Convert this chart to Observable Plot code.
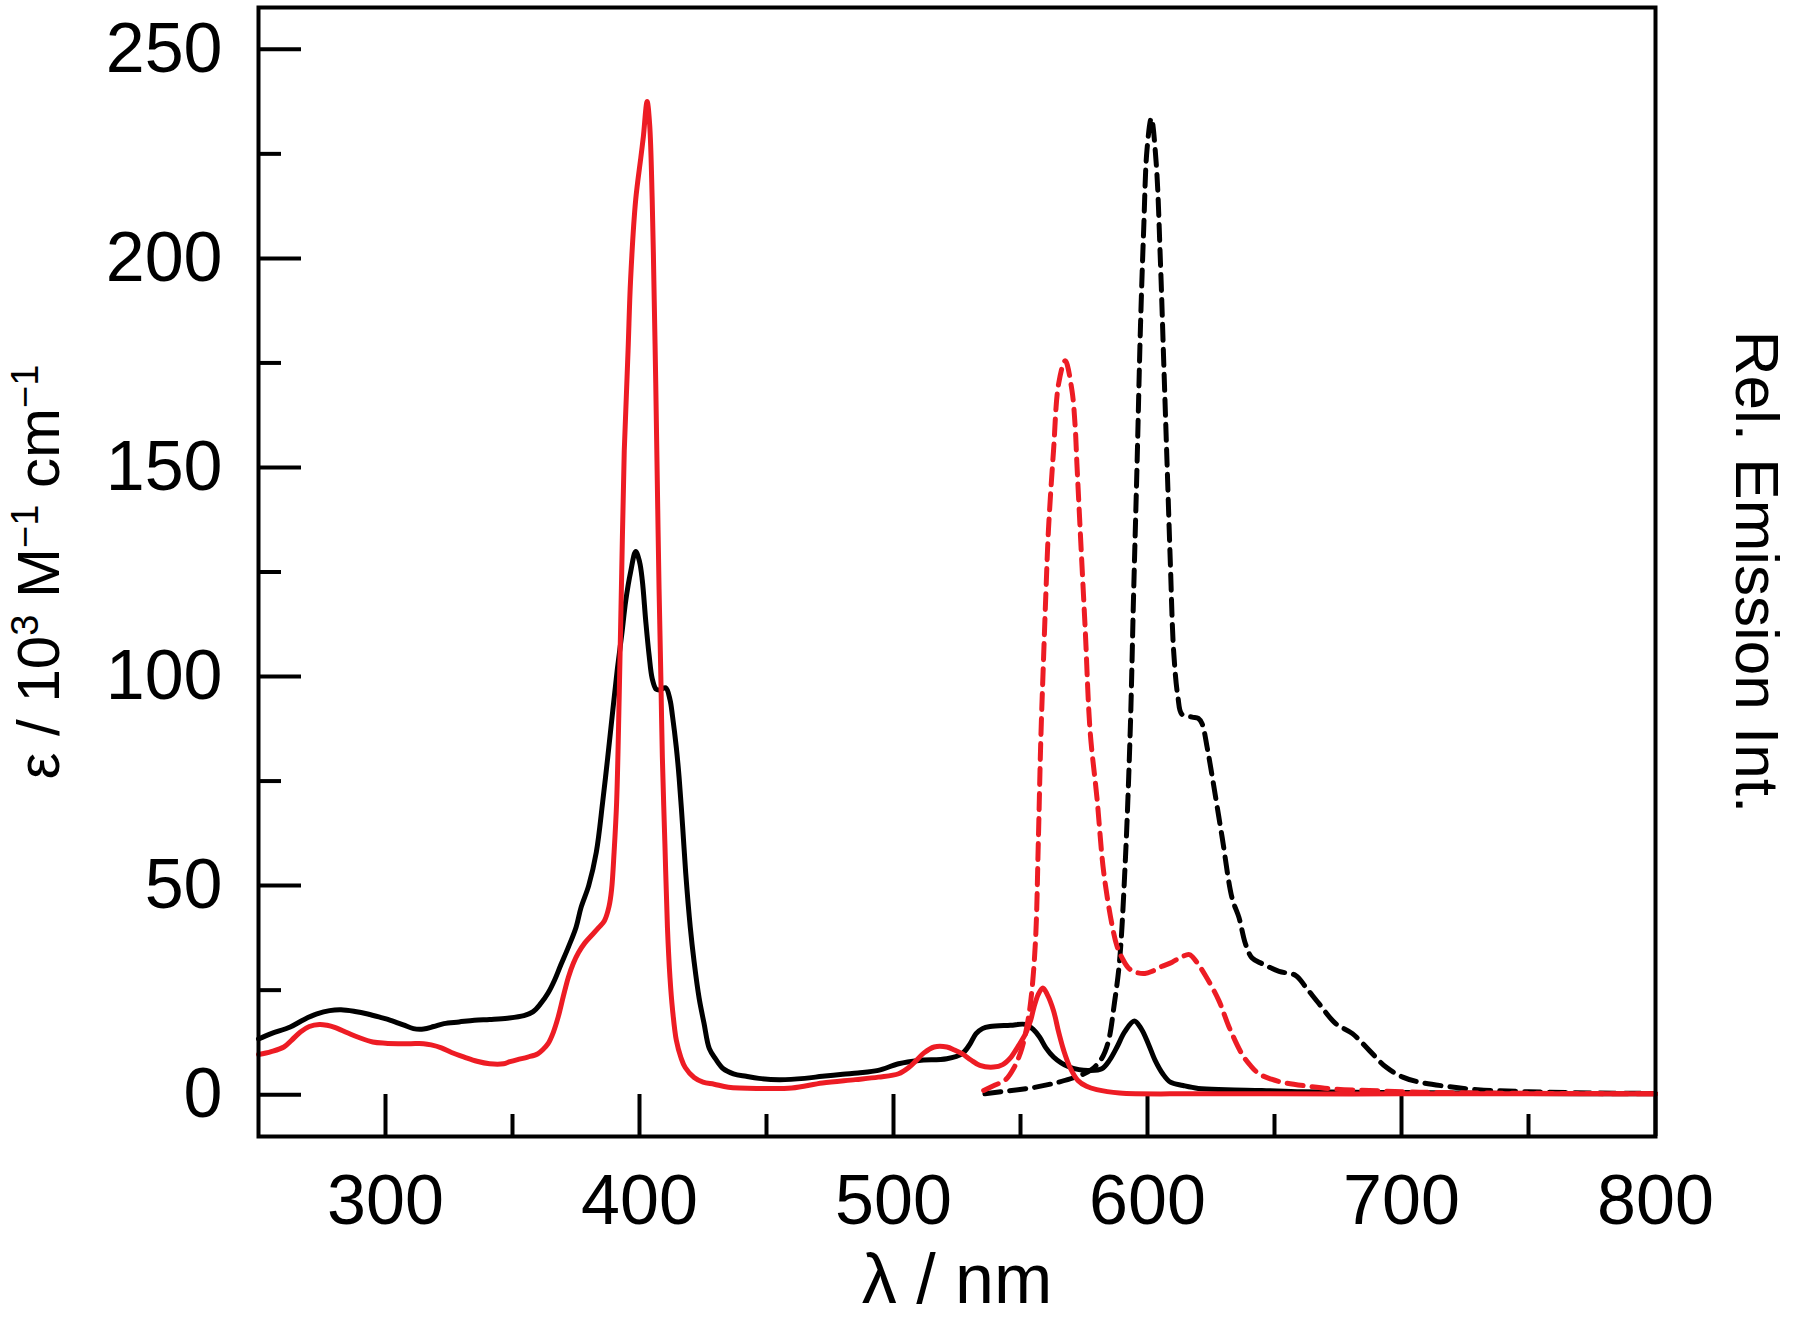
<!DOCTYPE html>
<html><head><meta charset="utf-8">
<script src="https://cdn.jsdelivr.net/npm/d3@7"></script>
<script src="https://cdn.jsdelivr.net/npm/@observablehq/plot@0.6"></script>
<style>
html,body{margin:0;padding:0;background:#fff;}
#chart svg{display:block;}
</style></head><body><div id="chart"></div>
<script>
// Absorption (solid) spectra: [wavelength nm, ε / 10^3 M^-1 cm^-1]
const absBlack = [
[250,13.3],[255,14.6],[262.5,16.2],[268,18.0],[273,19.3],[278,20.1],[282.5,20.3],[288,19.9],[293,19.3],[298,18.5],
[302,17.8],[307,16.7],[311,15.8],[315,15.7],[319,16.3],[323,17.0],[329,17.4],[335,17.8],[341,18.0],[348,18.3],
[354.5,18.9],[358,19.8],[361,21.7],[364,24.3],[366.5,27.3],[369,31],[372,35.3],[375,40],[377,44.8],[380,50],
[383,58],[385.5,70],[387.5,80.7],[389.5,92],[391.3,101.9],[393,110],[394.6,118.2],[396.5,125],[398.5,129.9],[400,127.5],
[401.1,123],[402.5,113],[403.8,105],[405,99.5],[406.5,97],[408,96.8],[410.3,97.3],[412,94.5],[413,90.5],[414.5,83],
[415.6,75.8],[417,64],[418.2,53],[420,40],[421.5,31.8],[423.5,23],[425.4,17.1],[427.5,11],[430,8.5],[433,6.2],
[437,5.0],[442,4.4],[447,3.9],[455,3.6],[465,3.9],[472,4.4],[480,4.9],[486,5.2],[494,5.8],[502,7.4],
[510,8.2],[521,8.6],[527,9.8],[530,12],[532.5,14.6],[535,15.8],[538,16.3],[546,16.6],[552,16.8],[555,15.6],
[557.5,13.8],[560,11.2],[563,9.0],[566,7.6],[568.5,6.8],[573,6.0],[577,5.8],[582,6.2],[585,8.2],[588,11.4],
[591,15],[594.8,17.6],[597.5,15.8],[600.3,12.2],[603,8.2],[606,5.0],[609,3.0],[614,2.2],[620,1.5],[631,1.2],
[645,1.0],[661,0.7],[700,0.5],[750,0.3],[800,0.2]
];
const absRed = [
[250,9.6],[255,10.3],[260,11.4],[263,13],[266.5,15],[270,16.3],[274,16.8],[277,16.6],[280,16.1],[285,14.8],
[289,13.8],[295,12.6],[300,12.3],[305,12.2],[310,12.2],[315,12.2],[318,11.9],[322,11.2],[326,10.1],[331,9.0],
[336,8.0],[341,7.4],[346.5,7.4],[349,7.9],[352,8.4],[356,9.0],[360,9.8],[362,10.8],[364,12.2],[366,14.8],
[368,18.6],[370,23.5],[372,28.1],[374,31.5],[376,34],[378.5,36.3],[381,38],[384,40],[386.2,41.6],[388,45],
[389,49],[390,58],[391,70],[392,95],[393,125],[394,154],[395.5,178],[396.5,195],[398.5,214],[400.5,224],
[401.5,229],[403,237.5],[404,232],[405,214],[405.8,190],[406.4,170],[407,147],[407.7,121],[408.4,100],[409,80.7],
[410,60],[411,40],[412,28],[413,20.4],[414.5,13],[416.3,8.9],[418,6.5],[421.5,4.1],[425,3.0],[429.4,2.5],
[435,1.8],[447,1.5],[460,1.6],[472,2.8],[485,3.6],[494,4.2],[502,5.0],[506,6.5],[509,8.2],[512,10],
[516,11.4],[521,11.4],[524,10.7],[527,9.8],[530.5,8.3],[534,7.0],[539.4,6.6],[543,7.2],[546.3,9.0],[549,11.5],
[552,14.6],[554,17.8],[555.3,20.9],[557,24],[558.8,25.5],[560.5,24],[563,20.1],[565,15],[567,10.6],[569.5,6.5],
[572.6,3.4],[576,2.0],[580,1.2],[589,0.4],[620,0.2],[700,0.2],[800,0.2]
];
// Emission (dashed) spectra: [wavelength nm, relative intensity]
const emBlack = [
[536,0.2],[545,0.9],[556,1.8],[565,3],[573,4.5],[578,6],[582,8.7],[584.5,12.5],[587,22],[589,32],
[591.2,55],[593.2,87],[594.5,119],[595.9,151],[597.2,183],[598.5,207],[599.8,226],[601.5,233.5],[603.4,223],[605.1,199],
[606.4,175],[607.7,151],[609,127],[610.3,106],[612,95],[613.5,91],[617.6,90.3],[620,90],[621.5,88.7],[623.5,83],
[625.5,76],[629.4,61.5],[633.3,47],[636,42.4],[638.6,36],[641.2,32.7],[645.2,31.3],[651.8,29.5],[658.4,28.5],[662.3,25.7],
[667.6,21.7],[674.1,17],[680.7,14.6],[687.3,10.6],[693.9,6.6],[700.5,4.2],[707,3.0],[717.6,2.0],[730,1.2],[750,0.7],
[775,0.4],[800,0.3]
];
const emRed = [
[535.5,1.0],[540,2.3],[544,3.5],[547.5,6.5],[550.5,11],[553,18],[554.5,25],[556,38],[557,60],[558,85],
[559,103],[560,120],[561,135],[563,154],[565,170],[567.6,175.5],[570.2,168.7],[571.5,160],[572.2,151],[573.5,135],
[575.5,111],[577.4,87],[580.1,71],[582.7,53.5],[586,40.7],[588,35.5],[590,32.7],[592.5,30.3],[595.2,29.3],[599,29.0],
[601.8,29.5],[605,30.5],[609.7,31.7],[613,32.8],[616.5,33.5],[619,32],[622.8,28.5],[628.1,22.5],[632.1,16.2],[637.3,9.6],
[640.5,7.0],[643.9,5.0],[648.8,3.7],[654.4,2.8],[663.6,2.0],[674.1,1.3],[687.3,1.0],[707,0.6],[730,0.4],[760,0.3],
[800,0.2]
];

const xMajor = [300, 400, 500, 600, 700, 800];
const xMinor = [350, 450, 550, 650, 750];
const yMajor = [0, 50, 100, 150, 200, 250];
const yMinor = [25, 75, 125, 175, 225];
const xTitle = "λ / nm";
const yTitleParts = [["ε / 10", false], ["3", true], [" M", false], ["−1", true], [" cm", false], ["−1", true]];
const yTitle = yTitleParts.map(p => p[0]).join("");
const y2Title = "Rel. Emission Int.";

const FONT = "'Liberation Sans', Arial, Helvetica, sans-serif";
const toRows = arr => arr.map(([x, y]) => ({x, y}));
const RED = "#ed1c24";
const LW = 5;

const chart = Plot.plot({
  width: 1800, height: 1323,
  marginLeft: 258, marginRight: 145, marginTop: 7, marginBottom: 187,
  style: {fontFamily: FONT, background: "#fff", color: "#000", overflow: "visible"},
  x: {domain: [250, 800]},
  y: {domain: [-10, 260]},
  marks: [
    Plot.axisX(xMajor, {anchor: "bottom", tickSize: -42, strokeWidth: 4, fill: "none", label: null}),
    Plot.axisX(xMinor, {anchor: "bottom", tickSize: -22, strokeWidth: 4, fill: "none", label: null}),
    Plot.axisX(xMajor, {anchor: "bottom", tickSize: 0, tickPadding: 38, fontSize: 70, label: null}),
    Plot.axisY(yMajor, {anchor: "left", tickSize: -43, strokeWidth: 4, fill: "none", label: null}),
    Plot.axisY(yMinor, {anchor: "left", tickSize: -23, strokeWidth: 4, fill: "none", label: null}),
    Plot.axisY(yMajor, {anchor: "left", tickSize: 0, tickPadding: 36, fontSize: 70, label: null}),
    Plot.line(toRows(absBlack), {x: "x", y: "y", stroke: "#000", strokeWidth: LW, curve: "catmull-rom"}),
    Plot.line(toRows(emBlack), {x: "x", y: "y", stroke: "#000", strokeWidth: LW, strokeDasharray: "16,9", curve: "catmull-rom"}),
    Plot.line(toRows(emRed), {x: "x", y: "y", stroke: RED, strokeWidth: LW, strokeDasharray: "16,9", curve: "catmull-rom"}),
    Plot.line(toRows(absRed), {x: "x", y: "y", stroke: RED, strokeWidth: LW, curve: "catmull-rom"}),
    Plot.frame({stroke: "#000", strokeWidth: 4}),
    Plot.text([xTitle], {text: d => d, frameAnchor: "bottom", dy: 166, lineAnchor: "bottom", fontSize: 70}),
    Plot.text([yTitle], {text: d => d, frameAnchor: "left", textAnchor: "middle", dx: -200, rotate: -90, lineAnchor: "bottom", fontSize: 60}),
    Plot.text([y2Title], {text: d => d, frameAnchor: "right", textAnchor: "middle", dx: 80, rotate: 90, lineAnchor: "bottom", fontSize: 62})
  ]
});
document.getElementById("chart").appendChild(chart);

// superscripts in the y title
const t = Array.from(chart.querySelectorAll("text")).find(e => e.textContent === yTitle);
if (t) {
  t.textContent = "";
  let shifted = false;
  for (const [s, sup] of yTitleParts) {
    const ts = document.createElementNS("http://www.w3.org/2000/svg", "tspan");
    ts.textContent = s;
    if (sup) {
      ts.setAttribute("font-size", "38");
      if (!shifted) ts.setAttribute("dy", "-21");
      shifted = true;
    } else if (shifted) {
      ts.setAttribute("dy", "21");
      shifted = false;
    }
    t.appendChild(ts);
  }
}
</script></body></html>
